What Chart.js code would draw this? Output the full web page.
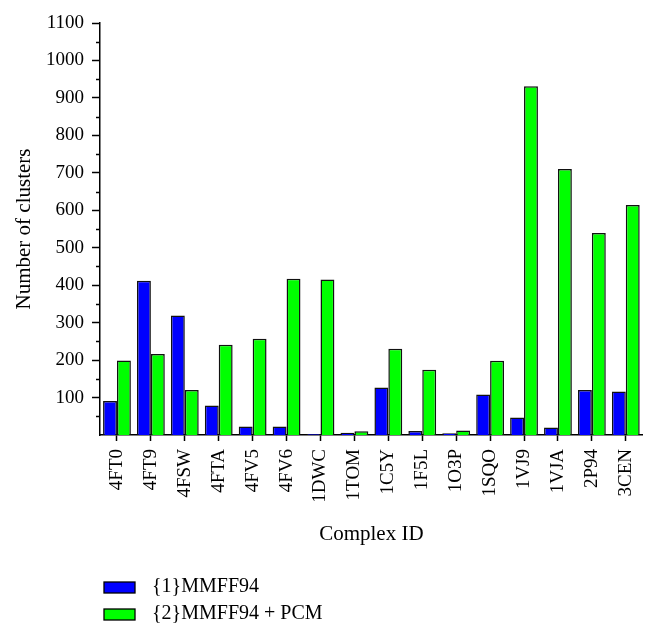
<!DOCTYPE html>
<html>
<head>
<meta charset="utf-8">
<script src="https://cdn.jsdelivr.net/npm/chart.js@4.4.1/dist/chart.umd.min.js"></script>
<style>
  body { margin: 0; background: #fff; }
</style>
</head>
<body>
<canvas id="myChart" width="657" height="639"></canvas>
<script>
/* data */
const complexIds = ['4FT0', '4FT9', '4FSW', '4FTA', '4FV5', '4FV6', '1DWC', '1TOM', '1C5Y', '1F5L', '1O3P', '1SQO', '1VJ9', '1VJA', '2P94', '3CEN'];
const mmff94 = [91, 412, 319, 79, 23, 23, 3, 6, 127, 11, 5, 108, 47, 20, 120, 116];
const mmff94Pcm = [199, 216, 120, 241, 257, 417, 415, 10, 230, 174, 12, 198, 931, 710, 539, 614];
const yTicks = [100, 200, 300, 400, 500, 600, 700, 800, 900, 1000, 1100];
const seriesNames = ['{1}MMFF94', '{2}MMFF94 + PCM'];

const serif = '"Liberation Serif", "DejaVu Serif", serif';

/* minor ticks on y + legend drawn below the axis title */
const extras = {
  id: 'extras',
  afterDraw(chart) {
    const c = chart.ctx;
    const y = chart.scales.y;
    c.save();
    c.strokeStyle = '#000';
    c.lineWidth = 1.5;
    for (let v = 50; v < 1100; v += 100) {
      const py = Math.round(y.getPixelForValue(v)) + 0.5;
      c.beginPath();
      c.moveTo(y.right - 4, py);
      c.lineTo(y.right, py);
      c.stroke();
    }
    // legend
    c.font = '20px ' + serif;
    c.textBaseline = 'middle';
    chart.data.datasets.forEach((ds, i) => {
      const top = 582 + i * 27;
      c.fillStyle = ds.backgroundColor;
      c.fillRect(104, top, 31, 11);
      c.strokeStyle = '#000';
      c.lineWidth = 1.3;
      c.strokeRect(104, top, 31, 11);
      c.fillStyle = '#000';
      c.fillText(ds.label, 152, top + 5);
    });
    c.restore();
  }
};

const ctx = document.getElementById('myChart');

new Chart(ctx, {
  type: 'bar',
  data: {
    labels: complexIds,
    datasets: [{
      label: seriesNames[0],
      data: mmff94,
      backgroundColor: '#0000ff',
      borderColor: '#111',
      borderWidth: 1.5
    }, {
      label: seriesNames[1],
      data: mmff94Pcm,
      backgroundColor: '#00ff00',
      borderColor: '#111',
      borderWidth: 1.5
    }]
  },
  plugins: [extras],
  options: {
    responsive: false,
    animation: false,
    layout: { padding: { top: 23, right: 13, bottom: 88, left: 0 } },
    datasets: { bar: { categoryPercentage: 0.82, barPercentage: 1 } },
    plugins: { legend: { display: false }, tooltip: { enabled: false } },
    scales: {
      x: {
        offset: true,
        grid: { offset: false, drawOnChartArea: false, tickLength: 6, tickColor: '#000', tickWidth: 1.5 },
        border: { color: '#000', width: 1.5 },
        ticks: { color: '#000', font: { family: serif, size: 19 }, minRotation: 90, maxRotation: 90, padding: 8 },
        title: { display: true, text: 'Complex ID', color: '#000', font: { family: serif, size: 21 }, padding: { top: 10 } },
        afterFit(scale) { scale.height = 116; }
      },
      y: {
        min: 0,
        max: 1100,
        grid: { drawOnChartArea: false, tickLength: 8, tickColor: '#000', tickWidth: 1.5 },
        border: { color: '#000', width: 1.5 },
        afterBuildTicks(scale) { scale.ticks = yTicks.map(v => ({ value: v })); },
        ticks: { color: '#000', font: { family: serif, size: 19 }, padding: 8, callback: v => String(v) },
        title: { display: true, text: 'Number of clusters', color: '#000', font: { family: serif, size: 21 }, padding: { top: 12, bottom: 0 } },
        afterFit(scale) { scale.width = 100; }
      }
    }
  }
});
</script>
</body>
</html>
